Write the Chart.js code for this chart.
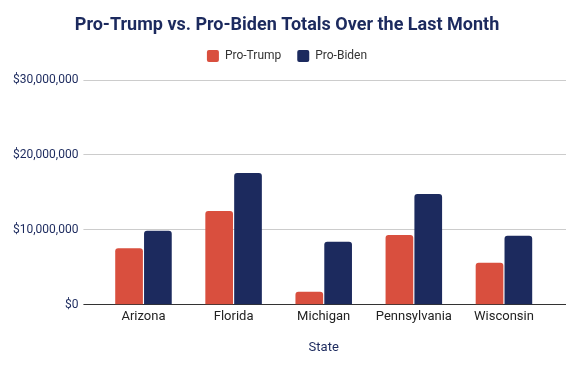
<!DOCTYPE html>
<html>
<head>
<meta charset="utf-8">
<script src="https://cdn.jsdelivr.net/npm/chart.js@4"></script>
<style>
  html, body { margin: 0; padding: 0; background: #fff; }
  #wrap { width: 579px; height: 366px; }
</style>
</head>
<body>
<div id="wrap"><canvas id="bars"></canvas></div>
<script>
const states = ['Arizona', 'Florida', 'Michigan', 'Pennsylvania', 'Wisconsin'];
const proTrump = [7560000, 12530000, 1730000, 9330000, 5600000];
const proBiden = [9870000, 17600000, 8400000, 14800000, 9200000];
const yTicks = [0, 10000000, 20000000, 30000000];

const gridColor = (c) => (c.tick && c.tick.value === 0 ? '#333333' : '#cccccc');

// extra room under the legend
const legendGap = {
  id: 'legendGap',
  beforeInit(chart) {
    const fit = chart.legend.fit;
    chart.legend.fit = function () {
      fit.bind(chart.legend)();
      this.height += 8;
    };
  }
};

const ctx = document.getElementById('bars').getContext('2d');

new Chart(ctx, {
  type: 'bar',
  data: {
    labels: states,
    datasets: [{
      label: 'Pro-Trump',
      data: proTrump,
      backgroundColor: '#d94f3e',
      borderRadius: { topLeft: 3, topRight: 3 },
      borderSkipped: 'bottom',
      categoryPercentage: 0.64,
      barPercentage: 0.96
    }, {
      label: 'Pro-Biden',
      data: proBiden,
      backgroundColor: '#1c2a5e',
      borderRadius: { topLeft: 3, topRight: 3 },
      borderSkipped: 'bottom',
      categoryPercentage: 0.64,
      barPercentage: 0.96
    }]
  },
  plugins: [legendGap],
  options: {
    responsive: true,
    maintainAspectRatio: false,
    animation: false,
    layout: { padding: { left: 8, right: 13, top: 3, bottom: 10 } },
    plugins: {
      title: {
        display: true,
        text: 'Pro-Trump vs. Pro-Biden Totals Over the Last Month',
        color: '#1c2a5e',
        font: { family: 'Roboto', size: 18, weight: 'bold', lineHeight: 1 },
        padding: { top: 13, bottom: 0 }
      },
      legend: {
        position: 'top',
        labels: {
          color: '#333333',
          font: { family: 'Roboto', size: 12 },
          boxWidth: 12,
          boxHeight: 12,
          useBorderRadius: true,
          borderRadius: 2,
          padding: 16
        }
      },
      tooltip: { enabled: false }
    },
    scales: {
      x: {
        grid: { display: false, drawTicks: false },
        border: { display: false },
        ticks: { color: '#222222', font: { family: 'Roboto', size: 13 }, padding: 4 },
        title: {
          display: true,
          text: 'State',
          color: '#1c2a5e',
          font: { family: 'Roboto', size: 13 },
          padding: { top: 12, bottom: 0 }
        }
      },
      y: {
        min: 0,
        max: 30000000,
        afterBuildTicks: (axis) => { axis.ticks = yTicks.map(v => ({ value: v })); },
        border: { display: false },
        grid: { color: gridColor, tickColor: gridColor, drawTicks: true, tickLength: 15 },
        ticks: {
          color: '#1c2a5e',
          font: { family: 'Roboto', size: 12 },
          padding: 5,
          callback: (v) => '$' + Number(v).toLocaleString('en-US')
        }
      },
      y2: {
        position: 'right',
        min: 0,
        max: 30000000,
        afterBuildTicks: (axis) => { axis.ticks = yTicks.map(v => ({ value: v })); },
        border: { display: false },
        grid: { drawOnChartArea: false, color: gridColor, tickColor: gridColor, drawTicks: true, tickLength: 17 },
        ticks: { display: false }
      }
    }
  }
});
</script>
</body>
</html>
